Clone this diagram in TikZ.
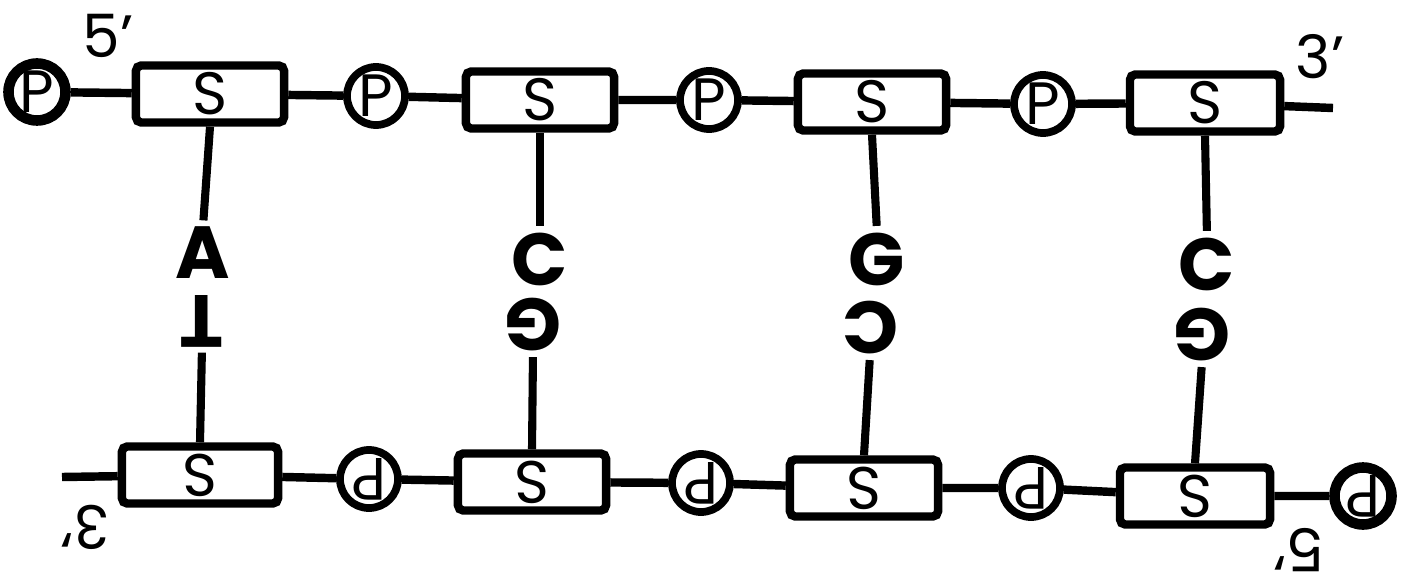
\documentclass[tikz,border=0pt]{standalone}
\usepackage{fontspec}
\setmainfont{Poppins}
\usepackage{graphicx}
\newcommand{\flip}[1]{\rotatebox[origin=c]{180}{#1}}
\begin{document}
\begin{tikzpicture}[x=0.01cm,y=-0.01cm,
  ln/.style={line width=2.4pt},
  vln/.style={line width=2.3pt},
  sbox/.style={draw,line width=2.4pt,minimum width=1.48cm,minimum height=0.57cm,inner sep=0pt,
    font=\fontsize{17}{17}\selectfont,rounded corners=1.5pt},
  pcirc/.style={draw,circle,line width=2.2pt,minimum size=0.58cm,inner sep=0pt,
    font=\fontsize{17}{17}\selectfont},
  endcirc/.style={pcirc,line width=3pt,minimum size=0.57cm},
  base/.style={font=\fontsize{21}{21}\selectfont\bfseries,inner sep=0pt},
  lbl/.style={font=\fontsize{17}{17}\selectfont,inner sep=0pt}]

\useasboundingbox (0,0) rectangle (1403,576);

% top strand
\node[endcirc] (p0) at (37,92) {P};
\node[sbox] (s1) at (210,94) {S};
\node[pcirc] (p1) at (376,96) {P};
\node[sbox] (s2) at (540,100) {S};
\node[pcirc] (p2) at (709,100) {P};
\node[sbox] (s3) at (872,102) {S};
\node[pcirc] (p3) at (1043,104) {P};
\node[sbox,minimum width=1.50cm] (s4) at (1205,103) {S};
\coordinate (e1) at (1333,108);
\node[lbl] (l5a) at (108,36) {5'};
\node[lbl] (l3a) at (1320,57) {3'};
\draw[ln] (p0) -- (s1) -- (p1) -- (s2) -- (p2) -- (s3) -- (p3) -- (s4) -- (e1);

% bottom strand
\coordinate (e2) at (62,477);
\node[sbox,minimum width=1.56cm] (s5) at (200,475) {\flip{S}};
\node[pcirc] (d1) at (369,479) {\flip{P}};
\node[sbox] (s6) at (532,482) {\flip{S}};
\node[pcirc] (d2) at (701,483) {\flip{P}};
\node[sbox] (s7) at (864,488) {\flip{S}};
\node[pcirc] (d3) at (1031,488) {\flip{P}};
\node[sbox,minimum width=1.50cm] (s8) at (1195,496) {\flip{S}};
\node[endcirc] (d4) at (1363,496) {\flip{P}};
\node[lbl,rotate=180] (l3b) at (85,527) {3'};
\node[lbl,rotate=180] (l5b) at (1299,550) {5'};
\draw[ln] (e2) -- (s5) -- (d1) -- (s6) -- (d2) -- (s7) -- (d3) -- (s8) -- (d4);

% bases
\node[base] (bA) at (203,253) {A};
\node[base] (bT) at (202,321) {\flip{T}};
\node[base] (bC1) at (540,259) {C};
\node[base] (bG1) at (533,325) {\flip{G}};
\node[base] (bG2) at (877,259) {G};
\node[base] (bC2) at (870,328) {\flip{C}};
\node[base] (bC3) at (1207,264) {C};
\node[base] (bG3) at (1202,335) {\flip{G}};

\draw[vln,shorten >=0.06cm] (s1.south) -- (bA.north);
\draw[vln,shorten <=0.05cm] (bT.south) -- (s5.north);
\draw[vln,shorten >=0.06cm] (s2.south) -- (bC1.north);
\draw[vln,shorten <=0.05cm] (bG1.south) -- (s6.north);
\draw[vln,shorten >=0.06cm] (s3.south) -- (bG2.north);
\draw[vln,shorten <=0.05cm] (bC2.south) -- (s7.north);
\draw[vln,shorten >=0.06cm] (s4.south) -- (bC3.north);
\draw[vln,shorten <=0.05cm] (bG3.south) -- (s8.north);
\end{tikzpicture}
\end{document}
